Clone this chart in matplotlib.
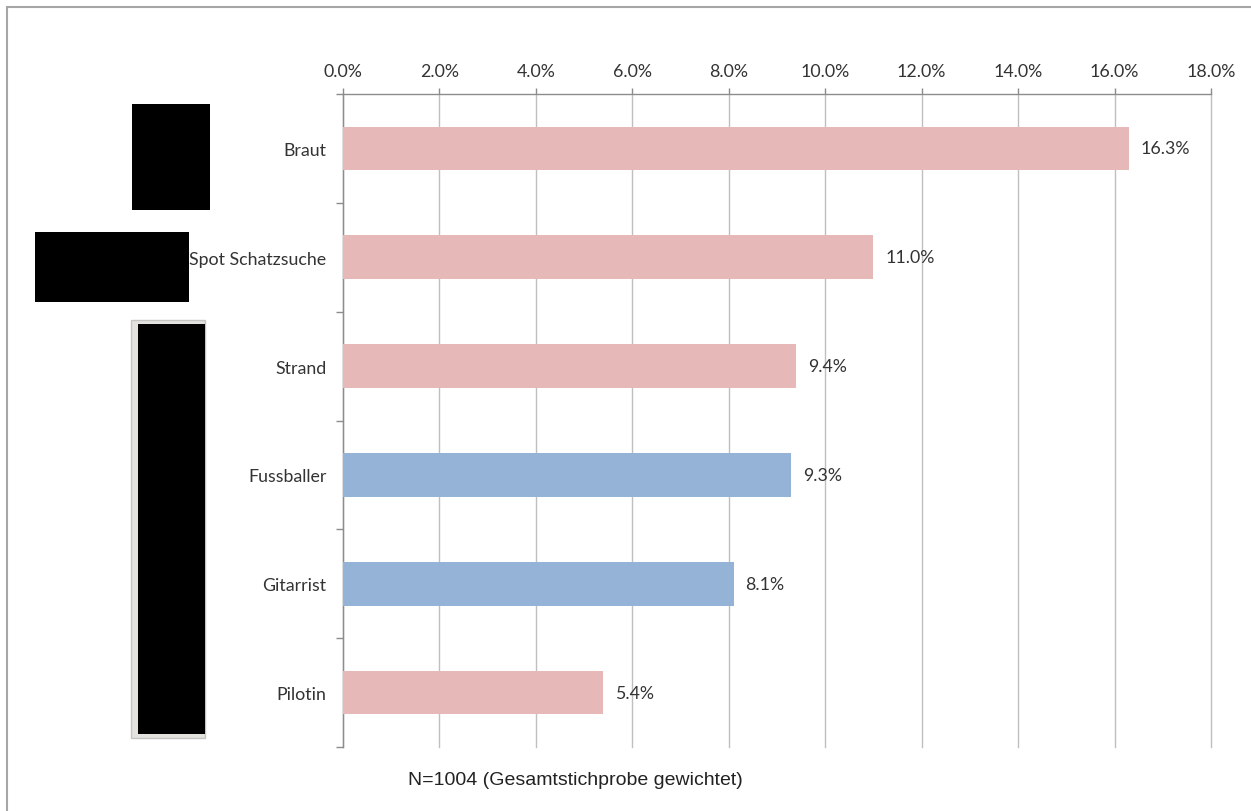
import numpy as np
import matplotlib.pyplot as plt
from matplotlib.patches import Rectangle
from matplotlib.ticker import FuncFormatter, FixedLocator

# Anteil der Nennungen je Spot
spots = ["Braut", "Spot Schatzsuche", "Strand", "Fussballer", "Gitarrist", "Pilotin"]
anteil = [16.3, 11.0, 9.4, 9.3, 8.1, 5.4]
gruppe = ["rot", "rot", "rot", "blau", "blau", "rot"]
x_ticks = [0, 2, 4, 6, 8, 10, 12, 14, 16, 18]
fussnote = "N=1004 (Gesamtstichprobe gewichtet)"

farben = {"rot": "#E6B8B7", "blau": "#95B3D7"}
grid_col = "#BFBFBF"
axis_col = "#8C8C8C"
label_font = ["Lato", "DejaVu Sans"]
fs = 12.8

W, H = 1251, 812
fig = plt.figure(figsize=(W / 100, H / 100), dpi=100)
fig.patch.set_facecolor("white")

def fx(px):
    return px / W

def fy(py):
    return 1 - py / H

ax = fig.add_axes([fx(343), fy(748), fx(1211) - fx(343), fy(95) - fy(748)])

y = np.arange(len(spots))
ax.barh(y, anteil, height=0.4, color=[farben[g] for g in gruppe], zorder=3)

for yi, v in zip(y, anteil):
    ax.annotate(f"{v:.1f}%", (v, yi), xytext=(8.5, 0), textcoords="offset points",
                va="center", ha="left", fontsize=fs, color="#333333",
                family=label_font)

ax.set_xlim(0, 18)
ax.set_ylim(len(spots) - 0.5, -0.5)

# x-Achse oben
ax.xaxis.tick_top()
ax.set_xticks(x_ticks)
ax.xaxis.set_major_formatter(FuncFormatter(lambda v, _: f"{v:.1f}%"))
ax.tick_params(axis="x", length=4, width=1, color=axis_col, pad=7,
               labelsize=fs, labelcolor="#333333")
for lab in ax.get_xticklabels():
    lab.set_family(label_font)
ax.grid(axis="x", color=grid_col, linewidth=1, zorder=0)
for gl in ax.get_xgridlines():
    gl.set_clip_on(False)

# Kategorien: Beschriftung mittig, Striche an den Grenzen
ax.set_yticks(y)
ax.set_yticklabels(spots, family=label_font, fontsize=fs, color="#333333")
ax.tick_params(axis="y", which="major", length=0, pad=12)
ax.yaxis.set_minor_locator(FixedLocator(np.arange(len(spots) + 1) - 0.5))
ax.tick_params(axis="y", which="minor", length=5, width=1, color=axis_col)

for side in ["right", "bottom"]:
    ax.spines[side].set_visible(False)
for side in ["top", "left"]:
    ax.spines[side].set_color(axis_col)
    ax.spines[side].set_linewidth(1)

fig.text(fx(408), fy(781), fussnote, family=["Liberation Sans", "DejaVu Sans"],
         fontsize=14, color="#222222", va="center", ha="left")

# geschwaerzte Bildfelder links
fig.add_artist(Rectangle((fx(131), fy(739)), fx(205) - fx(131), fy(321) - fy(739),
                         transform=fig.transFigure, facecolor="#E4E2DF",
                         edgecolor="#C4C4C4", linewidth=1))
for x0, y0, x1, y1 in [(132, 105, 210, 211), (35, 233, 189, 303), (138, 325, 205, 735)]:
    fig.add_artist(Rectangle((fx(x0), fy(y1)), fx(x1) - fx(x0), fy(y0) - fy(y1),
                             transform=fig.transFigure, facecolor="black",
                             edgecolor="none"))

# Rahmen
fig.add_artist(Rectangle((fx(7), fy(830)), fx(1260) - fx(7), fy(8) - fy(830),
                         transform=fig.transFigure, facecolor="none",
                         edgecolor="#A6A6A6", linewidth=1.5))

fig.savefig("out.png", dpi=100)
